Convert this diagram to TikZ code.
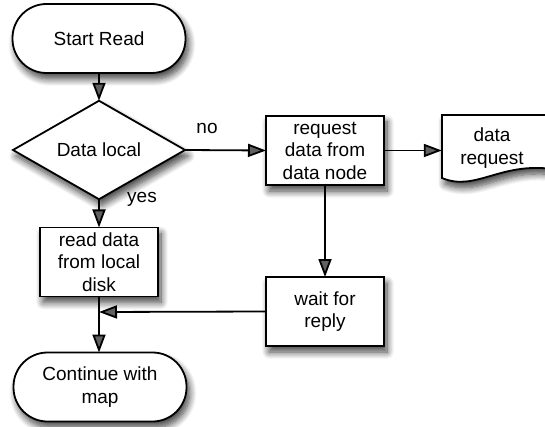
\documentclass[tikz,border=0pt]{standalone}
\usepackage{fontspec}
\setmainfont{Liberation Sans}
\usetikzlibrary{shapes.geometric,arrows.meta,shadows.blur}
\begin{document}
\begin{tikzpicture}[x=1pt,y=1pt,
  every node/.style={font=\fontsize{19}{22.5}\selectfont},
  shad/.style={blur shadow={shadow xshift=3pt,shadow yshift=-6pt,shadow blur radius=7pt,shadow blur steps=10,shadow opacity=75}},
  base/.style={draw,line width=1.8pt,fill=white,shad,align=center,inner sep=0pt,outer sep=0pt},
  term/.style={base,rounded corners=34pt,minimum width=173pt,minimum height=69pt},
  proc/.style={base,minimum width=118pt,minimum height=69pt},
  dec/.style={base,diamond,minimum width=172pt,minimum height=68pt},
  conn/.style={line width=1.8pt,-{Triangle[length=18pt,width=13pt]}},
  lbl/.style={inner sep=0pt}
]
\useasboundingbox (0,0) rectangle (545,-427);
\node[term] (start) at (99,-38.5) {Start Read};
\node[dec] (dl) at (99,-150) {Data local};
\node[proc] (req) at (325,-150.5) {request\\data from\\data node};
\node[proc] (rd) at (99,-262) {read data\\from local\\disk};
\node[proc] (wait) at (325,-311.5) {wait for\\reply};
\node[term] (cont) at (100,-387) {Continue with\\map};
% document shape
\path[draw,line width=1.8pt,fill=white,shad] (442,-115) -- (552,-115) -- (552,-169)
  .. controls (500,-162) and (475,-192) .. (442,-178) -- cycle;
\node[align=center,inner sep=0pt,minimum width=100pt] (doc) at (492,-148) {data\\request};
\coordinate (join) at (99,-312);
\draw[conn] (start) -- (dl);
\draw[conn] (dl.east) -- (req.west);
\draw[conn] (dl.south) -- (rd.north);
\draw[conn] (req.south) -- (wait.north);
\draw[conn] (req.east) -- (req.east -| doc.west);
\draw[conn] (rd.south) -- (rd.south |- cont.north);
\draw[conn] (wait.west) -- (join);
\node[lbl] (no) at (207,-128) {no};
\node[lbl] (yes) at (142,-199) {yes};
\end{tikzpicture}
\end{document}
